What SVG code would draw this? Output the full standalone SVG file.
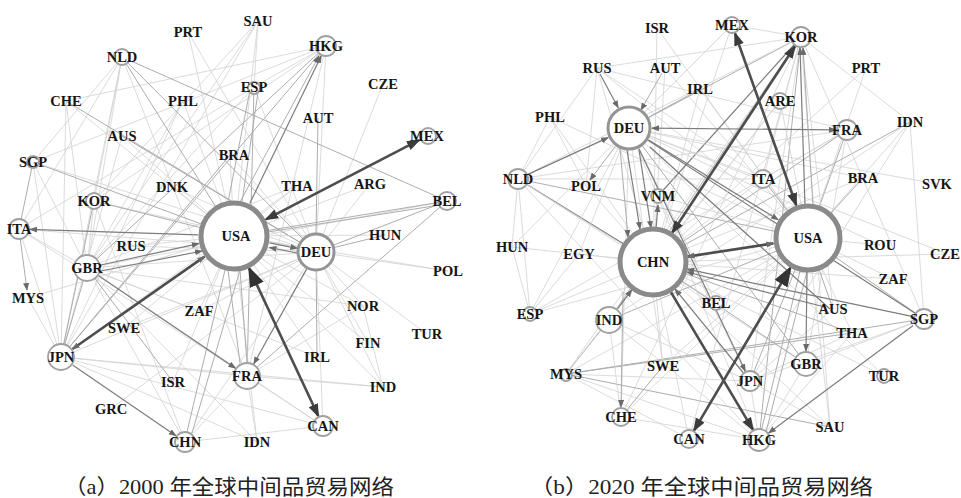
<svg xmlns="http://www.w3.org/2000/svg" width="961" height="498" viewBox="0 0 961 498">
<style>
.l{stroke:#d2d2d2;stroke-width:0.8;fill:none}
.m{stroke:#adadad;stroke-width:1;fill:none}
.d{stroke:#7c7c7c;stroke-width:1.2;fill:none}
.t{stroke:#4d4d4d;stroke-width:2.6;fill:none}
.nc{fill:#fff;stroke:#a0a0a0;stroke-width:1.8}
.big{fill:#fff;stroke:#8a8a8a;stroke-width:5}
.mid{fill:#fff;stroke:#949494;stroke-width:3}
.lbl{font-family:"Liberation Serif","Times New Roman",serif;font-weight:bold;font-size:14.5px;fill:#151515;text-anchor:middle}
.cap{font-family:"Liberation Serif","Noto Sans CJK SC",serif;font-size:21px;fill:#222}
</style>
<defs>
<marker id="ah" markerUnits="userSpaceOnUse" markerWidth="9" markerHeight="7" refX="7" refY="3" orient="auto-start-reverse"><path d="M0,0 L8,3 L0,6 z" fill="#6a6a6a"/></marker>
<marker id="ahB" markerUnits="userSpaceOnUse" markerWidth="15" markerHeight="11" refX="12" refY="5" orient="auto-start-reverse"><path d="M0,0 L14,5 L0,10 z" fill="#3c3c3c"/></marker>
<marker id="ahH" markerUnits="userSpaceOnUse" markerWidth="22" markerHeight="16" refX="18" refY="7.5" orient="auto-start-reverse"><path d="M0,0 L21,7.5 L0,15 z" fill="#333"/></marker>
</defs>
<rect x="0" y="0" width="961" height="498" fill="#fff"/>

<!-- ================= PANEL A ================= -->
<g id="edges-a">
<line class="l" x1="122" y1="57" x2="94" y2="201"/>
<line class="l" x1="122" y1="57" x2="87" y2="268"/>
<line class="l" x1="122" y1="57" x2="61" y2="357"/>
<line class="l" x1="122" y1="57" x2="247" y2="376"/>
<line class="l" x1="122" y1="57" x2="19" y2="229"/>
<line class="l" x1="122" y1="57" x2="33" y2="162"/>
<line class="l" x1="188" y1="32" x2="316" y2="252"/>
<line class="l" x1="188" y1="32" x2="234" y2="236"/>
<line class="l" x1="258" y1="21" x2="94" y2="201"/>
<line class="l" x1="258" y1="21" x2="87" y2="268"/>
<line class="l" x1="258" y1="21" x2="254" y2="87"/>
<line class="l" x1="258" y1="21" x2="234" y2="236"/>
<line class="l" x1="258" y1="21" x2="61" y2="357"/>
<line class="l" x1="326" y1="46" x2="94" y2="201"/>
<line class="m" x1="326" y1="46" x2="87" y2="268"/>
<line class="m" x1="326" y1="46" x2="61" y2="357"/>
<line class="l" x1="326" y1="46" x2="254" y2="87"/>
<line class="l" x1="326" y1="46" x2="247" y2="376"/>
<line class="l" x1="326" y1="46" x2="316" y2="252"/>
<line class="l" x1="326" y1="46" x2="66" y2="101"/>
<line class="l" x1="326" y1="46" x2="33" y2="162"/>
<line class="l" x1="254" y1="87" x2="316" y2="252"/>
<line class="m" x1="254" y1="87" x2="247" y2="376"/>
<line class="l" x1="254" y1="87" x2="87" y2="268"/>
<line class="l" x1="254" y1="87" x2="19" y2="229"/>
<line class="l" x1="383" y1="84" x2="316" y2="252"/>
<line class="l" x1="66" y1="101" x2="234" y2="236"/>
<line class="m" x1="66" y1="101" x2="316" y2="252"/>
<line class="l" x1="66" y1="101" x2="61" y2="357"/>
<line class="l" x1="66" y1="101" x2="87" y2="268"/>
<line class="l" x1="183" y1="101" x2="234" y2="236"/>
<line class="l" x1="183" y1="101" x2="61" y2="357"/>
<line class="l" x1="183" y1="101" x2="87" y2="268"/>
<line class="l" x1="122" y1="136" x2="234" y2="236"/>
<line class="l" x1="122" y1="136" x2="61" y2="357"/>
<line class="m" x1="122" y1="136" x2="316" y2="252"/>
<line class="l" x1="33" y1="162" x2="61" y2="357"/>
<line class="l" x1="33" y1="162" x2="87" y2="268"/>
<line class="l" x1="33" y1="162" x2="316" y2="252"/>
<line class="l" x1="230" y1="155" x2="234" y2="236"/>
<line class="m" x1="230" y1="155" x2="61" y2="357"/>
<line class="l" x1="230" y1="155" x2="316" y2="252"/>
<line class="l" x1="172" y1="187" x2="234" y2="236"/>
<line class="l" x1="172" y1="187" x2="316" y2="252"/>
<line class="l" x1="297" y1="186" x2="234" y2="236"/>
<line class="l" x1="297" y1="186" x2="61" y2="357"/>
<line class="l" x1="297" y1="186" x2="87" y2="268"/>
<line class="l" x1="370" y1="184" x2="234" y2="236"/>
<line class="l" x1="370" y1="184" x2="316" y2="252"/>
<line class="l" x1="94" y1="201" x2="185" y2="442"/>
<line class="l" x1="94" y1="201" x2="87" y2="268"/>
<line class="l" x1="94" y1="201" x2="316" y2="252"/>
<line class="l" x1="447" y1="201" x2="87" y2="268"/>
<line class="m" x1="447" y1="201" x2="247" y2="376"/>
<line class="l" x1="19" y1="229" x2="316" y2="252"/>
<line class="l" x1="19" y1="229" x2="87" y2="268"/>
<line class="l" x1="19" y1="229" x2="247" y2="376"/>
<line class="l" x1="19" y1="229" x2="61" y2="357"/>
<line class="l" x1="131" y1="246" x2="234" y2="236"/>
<line class="l" x1="131" y1="246" x2="316" y2="252"/>
<line class="l" x1="385" y1="235" x2="234" y2="236"/>
<line class="l" x1="87" y1="268" x2="316" y2="252"/>
<line class="m" x1="87" y1="268" x2="61" y2="357"/>
<line class="l" x1="87" y1="268" x2="185" y2="442"/>
<line class="l" x1="87" y1="268" x2="323" y2="426"/>
<line class="l" x1="28" y1="298" x2="234" y2="236"/>
<line class="l" x1="28" y1="298" x2="61" y2="357"/>
<line class="l" x1="448" y1="271" x2="316" y2="252"/>
<line class="l" x1="448" y1="271" x2="234" y2="236"/>
<line class="l" x1="199" y1="311" x2="234" y2="236"/>
<line class="l" x1="199" y1="311" x2="87" y2="268"/>
<line class="l" x1="199" y1="311" x2="316" y2="252"/>
<line class="l" x1="124" y1="328" x2="234" y2="236"/>
<line class="l" x1="124" y1="328" x2="316" y2="252"/>
<line class="l" x1="363" y1="306" x2="316" y2="252"/>
<line class="l" x1="363" y1="306" x2="247" y2="376"/>
<line class="l" x1="363" y1="306" x2="87" y2="268"/>
<line class="l" x1="363" y1="306" x2="234" y2="236"/>
<line class="l" x1="427" y1="334" x2="316" y2="252"/>
<line class="l" x1="61" y1="357" x2="257" y2="442"/>
<line class="l" x1="61" y1="357" x2="316" y2="252"/>
<line class="l" x1="61" y1="357" x2="247" y2="376"/>
<line class="l" x1="61" y1="357" x2="323" y2="426"/>
<line class="l" x1="61" y1="357" x2="383" y2="387"/>
<line class="l" x1="368" y1="343" x2="316" y2="252"/>
<line class="l" x1="368" y1="343" x2="234" y2="236"/>
<line class="m" x1="317" y1="357" x2="316" y2="252"/>
<line class="l" x1="317" y1="357" x2="234" y2="236"/>
<line class="l" x1="317" y1="357" x2="87" y2="268"/>
<line class="l" x1="247" y1="376" x2="323" y2="426"/>
<line class="l" x1="247" y1="376" x2="257" y2="442"/>
<line class="l" x1="173" y1="382" x2="234" y2="236"/>
<line class="m" x1="173" y1="382" x2="87" y2="268"/>
<line class="l" x1="383" y1="387" x2="234" y2="236"/>
<line class="l" x1="383" y1="387" x2="316" y2="252"/>
<line class="l" x1="383" y1="387" x2="363" y2="306"/>
<line class="l" x1="383" y1="387" x2="247" y2="376"/>
<line class="l" x1="111" y1="409" x2="316" y2="252"/>
<line class="l" x1="185" y1="442" x2="316" y2="252"/>
<line class="l" x1="185" y1="442" x2="247" y2="376"/>
<line class="l" x1="323" y1="426" x2="316" y2="252"/>
<line class="l" x1="323" y1="426" x2="185" y2="442"/>
<line class="l" x1="257" y1="442" x2="234" y2="236"/>
<line class="l" x1="257" y1="442" x2="87" y2="268"/>
<!-- medium -->
<line class="m" x1="122" y1="57" x2="234" y2="236"/>
<line class="m" x1="122" y1="57" x2="316" y2="252"/>
<line class="m" x1="122" y1="57" x2="447" y2="201"/>
<line class="m" x1="250" y1="90" x2="228" y2="202"/>
<line class="m" x1="258" y1="92" x2="242" y2="202"/>
<line class="m" x1="318" y1="118" x2="316" y2="233"/>
<line class="m" x1="33" y1="162" x2="234" y2="236"/>
<line class="m" x1="94" y1="201" x2="234" y2="236"/>
<line class="m" x1="94" y1="201" x2="61" y2="357"/>
<line class="m" x1="447" y1="201" x2="234" y2="236"/>
<line class="m" x1="447" y1="201" x2="316" y2="252"/>
<line class="m" x1="440" y1="205" x2="268" y2="232"/>
<line class="m" x1="385" y1="235" x2="316" y2="252"/>
<line class="m" x1="187" y1="432" x2="225" y2="270"/>
<line class="m" x1="192" y1="433" x2="240" y2="270"/>
<line class="m" x1="247" y1="363" x2="240" y2="270"/>
<line class="m" x1="240" y1="363" x2="228" y2="270"/>
<line class="m" x1="33" y1="162" x2="21" y2="220"/>
<!-- medium arrows -->
<line class="d" x1="198" y1="234.8" x2="30" y2="229.4" marker-end="url(#ah)"/>
<line class="d" x1="306.8" y1="268.6" x2="253.8" y2="363.8" marker-end="url(#ah)"/>
<line class="d" x1="98.6" y1="275.8" x2="235.4" y2="368.2" marker-end="url(#ah)"/>
<line class="d" x1="72.6" y1="364.9" x2="175.9" y2="435.8" marker-end="url(#ah)"/>
<line class="d" x1="100.7" y1="265" x2="198.8" y2="243.7" marker-end="url(#ah)"/>
<line class="d" x1="101" y1="271" x2="202" y2="251" marker-end="url(#ah)"/>
<line class="d" x1="269.4" y1="242.9" x2="297.3" y2="248.4" marker-end="url(#ah)"/>
<line class="d" x1="297" y1="253" x2="269.5" y2="247.5" marker-end="url(#ah)"/>
<line class="d" x1="249.7" y1="203.6" x2="321.2" y2="55.9" marker-end="url(#ah)"/>
<line class="m" x1="240" y1="202" x2="319" y2="56" marker-end="url(#ah)"/>
<line class="m" x1="20.4" y1="240" x2="27" y2="290" marker-end="url(#ah)"/>
<!-- thick -->
<line class="t" x1="266" y1="219.4" x2="419" y2="140.1" marker-start="url(#ahB)" marker-end="url(#ahB)"/>
<line class="t" x1="204.5" y1="256.6" x2="72.5" y2="349" stroke-width="2.2" marker-start="url(#ah)" marker-end="url(#ah)"/>
<line class="t" x1="249.3" y1="268.6" x2="318.3" y2="416" stroke-width="4.5" marker-start="url(#ahH)" marker-end="url(#ahB)"/>
</g>

<g id="nodes-a">
<g id="a-USA"><circle class="big" cx="234" cy="236" r="33"/><text class="lbl" x="236" y="241">USA</text></g>
<g id="a-DEU"><circle class="mid" cx="316" cy="252" r="18"/><text class="lbl" x="316" y="257">DEU</text></g>
<g id="a-PRT"><text class="lbl" x="188" y="37">PRT</text></g>
<g id="a-SAU"><text class="lbl" x="258" y="26">SAU</text></g>
<g id="a-NLD"><circle class="nc" cx="122" cy="57" r="8"/><text class="lbl" x="122" y="62">NLD</text></g>
<g id="a-HKG"><circle class="nc" cx="326" cy="46" r="10"/><text class="lbl" x="326" y="51">HKG</text></g>
<g id="a-ESP"><circle class="nc" cx="254" cy="88" r="6"/><text class="lbl" x="254" y="92">ESP</text></g>
<g id="a-CZE"><text class="lbl" x="383" y="89">CZE</text></g>
<g id="a-CHE"><text class="lbl" x="66" y="106">CHE</text></g>
<g id="a-PHL"><text class="lbl" x="183" y="106">PHL</text></g>
<g id="a-AUS"><text class="lbl" x="122" y="141">AUS</text></g>
<g id="a-AUT"><text class="lbl" x="318" y="123">AUT</text></g>
<g id="a-MEX"><circle class="nc" cx="428" cy="136" r="8"/><text class="lbl" x="427" y="141">MEX</text></g>
<g id="a-SGP"><circle class="nc" cx="33" cy="162" r="6"/><text class="lbl" x="33" y="167">SGP</text></g>
<g id="a-BRA"><text class="lbl" x="234" y="160">BRA</text></g>
<g id="a-DNK"><text class="lbl" x="172" y="192">DNK</text></g>
<g id="a-THA"><text class="lbl" x="297" y="191">THA</text></g>
<g id="a-ARG"><text class="lbl" x="370" y="189">ARG</text></g>
<g id="a-KOR"><circle class="nc" cx="94" cy="201" r="8"/><text class="lbl" x="94" y="206">KOR</text></g>
<g id="a-BEL"><circle class="nc" cx="447" cy="201" r="9"/><text class="lbl" x="447" y="206">BEL</text></g>
<g id="a-ITA"><circle class="nc" cx="19" cy="229" r="10"/><text class="lbl" x="19" y="234">ITA</text></g>
<g id="a-RUS"><text class="lbl" x="131" y="251">RUS</text></g>
<g id="a-HUN"><text class="lbl" x="385" y="240">HUN</text></g>
<g id="a-GBR"><circle class="nc" cx="87" cy="268" r="13" stroke-width="2.5"/><text class="lbl" x="87" y="273">GBR</text></g>
<g id="a-MYS"><text class="lbl" x="28" y="303">MYS</text></g>
<g id="a-POL"><text class="lbl" x="448" y="276">POL</text></g>
<g id="a-ZAF"><text class="lbl" x="199" y="316">ZAF</text></g>
<g id="a-SWE"><text class="lbl" x="124" y="333">SWE</text></g>
<g id="a-NOR"><text class="lbl" x="363" y="311">NOR</text></g>
<g id="a-TUR"><text class="lbl" x="427" y="339">TUR</text></g>
<g id="a-JPN"><circle class="nc" cx="61" cy="357" r="13" stroke-width="2.5"/><text class="lbl" x="61" y="362">JPN</text></g>
<g id="a-FIN"><text class="lbl" x="368" y="348">FIN</text></g>
<g id="a-IRL"><text class="lbl" x="317" y="362">IRL</text></g>
<g id="a-FRA"><circle class="nc" cx="247" cy="376" r="13" stroke-width="2.5"/><text class="lbl" x="247" y="381">FRA</text></g>
<g id="a-ISR"><text class="lbl" x="173" y="387">ISR</text></g>
<g id="a-IND"><text class="lbl" x="383" y="392">IND</text></g>
<g id="a-GRC"><text class="lbl" x="111" y="414">GRC</text></g>
<g id="a-CAN"><circle class="nc" cx="323" cy="426" r="10"/><text class="lbl" x="323" y="431">CAN</text></g>
<g id="a-CHN"><circle class="nc" cx="185" cy="442" r="10"/><text class="lbl" x="185" y="447">CHN</text></g>
<g id="a-IDN"><text class="lbl" x="257" y="447">IDN</text></g>
</g>

<!-- ================= PANEL B ================= -->
<g id="edges-b">
<line class="l" x1="657" y1="28" x2="808" y2="238"/>
<line class="l" x1="657" y1="28" x2="653" y2="262"/>
<line class="l" x1="597" y1="68" x2="653" y2="262"/>
<line class="l" x1="597" y1="68" x2="808" y2="238"/>
<line class="l" x1="597" y1="68" x2="801" y2="37"/>
<line class="l" x1="597" y1="68" x2="763" y2="179"/>
<line class="l" x1="597" y1="68" x2="518" y2="179"/>
<line class="l" x1="597" y1="68" x2="847" y2="130"/>
<line class="l" x1="597" y1="68" x2="586" y2="186"/>
<line class="l" x1="665" y1="68" x2="653" y2="262"/>
<line class="l" x1="665" y1="68" x2="808" y2="238"/>
<line class="l" x1="700" y1="89" x2="808" y2="238"/>
<line class="l" x1="700" y1="89" x2="653" y2="262"/>
<line class="m" x1="700" y1="89" x2="629" y2="128"/>
<line class="l" x1="550" y1="117" x2="653" y2="262"/>
<line class="l" x1="550" y1="117" x2="518" y2="179"/>
<line class="l" x1="550" y1="117" x2="808" y2="238"/>
<line class="l" x1="550" y1="117" x2="586" y2="186"/>
<line class="l" x1="732" y1="25" x2="653" y2="262"/>
<line class="l" x1="732" y1="25" x2="629" y2="128"/>
<line class="l" x1="732" y1="25" x2="801" y2="37"/>
<line class="d" x1="801" y1="37" x2="658" y2="196"/>
<line class="m" x1="801" y1="37" x2="629" y2="128"/>
<line class="l" x1="801" y1="37" x2="750" y2="381"/>
<line class="m" x1="801" y1="37" x2="759" y2="440"/>
<line class="l" x1="801" y1="37" x2="763" y2="179"/>
<line class="l" x1="801" y1="37" x2="566" y2="374"/>
<line class="m" x1="801" y1="37" x2="609" y2="320"/>
<line class="l" x1="866" y1="68" x2="653" y2="262"/>
<line class="l" x1="866" y1="68" x2="808" y2="238"/>
<line class="l" x1="780" y1="101" x2="653" y2="262"/>
<line class="l" x1="780" y1="101" x2="808" y2="238"/>
<line class="l" x1="780" y1="101" x2="609" y2="320"/>
<line class="m" x1="847" y1="130" x2="653" y2="262"/>
<line class="m" x1="847" y1="130" x2="808" y2="238"/>
<line class="l" x1="847" y1="130" x2="763" y2="179"/>
<line class="l" x1="847" y1="130" x2="806" y2="364"/>
<line class="l" x1="847" y1="130" x2="518" y2="179"/>
<line class="l" x1="847" y1="130" x2="530" y2="314"/>
<line class="m" x1="910" y1="122" x2="653" y2="262"/>
<line class="l" x1="910" y1="122" x2="808" y2="238"/>
<line class="l" x1="910" y1="122" x2="924" y2="319"/>
<line class="l" x1="910" y1="122" x2="750" y2="381"/>
<line class="l" x1="910" y1="122" x2="801" y2="37"/>
<line class="l" x1="910" y1="122" x2="609" y2="320"/>
<line class="d" x1="518" y1="179" x2="653" y2="262"/>
<line class="m" x1="518" y1="179" x2="808" y2="238"/>
<line class="l" x1="518" y1="179" x2="763" y2="179"/>
<line class="l" x1="518" y1="179" x2="716" y2="303"/>
<line class="l" x1="518" y1="179" x2="801" y2="37"/>
<line class="l" x1="518" y1="179" x2="806" y2="364"/>
<line class="l" x1="518" y1="179" x2="512" y2="247"/>
<line class="l" x1="518" y1="179" x2="530" y2="314"/>
<line class="l" x1="586" y1="186" x2="653" y2="262"/>
<line class="l" x1="658" y1="196" x2="808" y2="238"/>
<line class="l" x1="658" y1="196" x2="750" y2="381"/>
<line class="m" x1="763" y1="179" x2="808" y2="238"/>
<line class="l" x1="763" y1="179" x2="653" y2="262"/>
<line class="l" x1="763" y1="179" x2="629" y2="128"/>
<line class="m" x1="863" y1="178" x2="808" y2="238"/>
<line class="l" x1="863" y1="178" x2="653" y2="262"/>
<line class="l" x1="863" y1="178" x2="629" y2="128"/>
<line class="l" x1="937" y1="184" x2="629" y2="128"/>
<line class="l" x1="512" y1="247" x2="629" y2="128"/>
<line class="l" x1="512" y1="247" x2="530" y2="314"/>
<line class="l" x1="512" y1="247" x2="653" y2="262"/>
<line class="l" x1="579" y1="254" x2="653" y2="262"/>
<line class="l" x1="579" y1="254" x2="530" y2="314"/>
<line class="l" x1="579" y1="254" x2="629" y2="128"/>
<line class="l" x1="880" y1="245" x2="629" y2="128"/>
<line class="l" x1="880" y1="245" x2="808" y2="238"/>
<line class="l" x1="947" y1="254" x2="629" y2="128"/>
<line class="l" x1="947" y1="254" x2="653" y2="262"/>
<line class="l" x1="893" y1="279" x2="808" y2="238"/>
<line class="l" x1="893" y1="279" x2="653" y2="262"/>
<line class="l" x1="716" y1="303" x2="653" y2="262"/>
<line class="l" x1="716" y1="303" x2="808" y2="238"/>
<line class="l" x1="716" y1="303" x2="629" y2="128"/>
<line class="m" x1="833" y1="309" x2="808" y2="238"/>
<line class="l" x1="833" y1="309" x2="750" y2="381"/>
<line class="l" x1="833" y1="309" x2="801" y2="37"/>
<line class="m" x1="924" y1="319" x2="808" y2="238"/>
<line class="l" x1="924" y1="319" x2="750" y2="381"/>
<line class="m" x1="924" y1="319" x2="566" y2="374"/>
<line class="l" x1="924" y1="319" x2="806" y2="364"/>
<line class="d" x1="924" y1="319" x2="629" y2="128"/>
<line class="l" x1="924" y1="319" x2="801" y2="37"/>
<line class="l" x1="530" y1="314" x2="653" y2="262"/>
<line class="l" x1="530" y1="314" x2="629" y2="128"/>
<line class="l" x1="530" y1="314" x2="808" y2="238"/>
<line class="m" x1="609" y1="320" x2="808" y2="238"/>
<line class="m" x1="609" y1="320" x2="566" y2="374"/>
<line class="l" x1="609" y1="320" x2="750" y2="381"/>
<line class="m" x1="852" y1="333" x2="653" y2="262"/>
<line class="l" x1="852" y1="333" x2="808" y2="238"/>
<line class="l" x1="852" y1="333" x2="750" y2="381"/>
<line class="m" x1="852" y1="333" x2="566" y2="374"/>
<line class="l" x1="852" y1="333" x2="759" y2="440"/>
<line class="m" x1="806" y1="364" x2="653" y2="262"/>
<line class="m" x1="806" y1="364" x2="629" y2="128"/>
<line class="l" x1="806" y1="364" x2="759" y2="440"/>
<line class="l" x1="663" y1="366" x2="653" y2="262"/>
<line class="l" x1="663" y1="366" x2="629" y2="128"/>
<line class="l" x1="663" y1="366" x2="808" y2="238"/>
<line class="l" x1="566" y1="374" x2="653" y2="262"/>
<line class="l" x1="566" y1="374" x2="808" y2="238"/>
<line class="l" x1="566" y1="374" x2="750" y2="381"/>
<line class="l" x1="566" y1="374" x2="759" y2="440"/>
<line class="l" x1="884" y1="376" x2="629" y2="128"/>
<line class="l" x1="884" y1="376" x2="653" y2="262"/>
<line class="m" x1="750" y1="381" x2="808" y2="238"/>
<line class="l" x1="750" y1="381" x2="759" y2="440"/>
<line class="l" x1="621" y1="417" x2="629" y2="128"/>
<line class="l" x1="621" y1="417" x2="808" y2="238"/>
<line class="m" x1="621" y1="417" x2="663" y2="366"/>
<line class="l" x1="621" y1="417" x2="609" y2="320"/>
<line class="l" x1="621" y1="417" x2="759" y2="440"/>
<line class="l" x1="621" y1="417" x2="801" y2="37"/>
<line class="l" x1="830" y1="427" x2="653" y2="262"/>
<line class="l" x1="830" y1="427" x2="808" y2="238"/>
<line class="l" x1="830" y1="427" x2="750" y2="381"/>
<line class="l" x1="830" y1="427" x2="801" y2="37"/>
<line class="m" x1="830" y1="427" x2="566" y2="374"/>
<line class="l" x1="689" y1="439" x2="653" y2="262"/>
<line class="l" x1="689" y1="439" x2="801" y2="37"/>
<line class="l" x1="689" y1="439" x2="566" y2="374"/>
<line class="m" x1="759" y1="440" x2="808" y2="238"/>
<line class="m" x1="766" y1="432" x2="815" y2="240"/>
<line class="l" x1="759" y1="440" x2="629" y2="128"/>
<line class="l" x1="759" y1="440" x2="518" y2="179"/>
<line class="l" x1="759" y1="440" x2="609" y2="320"/>
<!-- medium arrows -->
<line class="d" x1="528" y1="174.4" x2="608.1" y2="137.6" marker-end="url(#ah)"/>
<line class="d" x1="652" y1="128.2" x2="836" y2="129.9" marker-start="url(#ah)" marker-end="url(#ah)"/>
<line class="d" x1="627" y1="150" x2="640" y2="229" marker-end="url(#ah)"/>
<line class="d" x1="639" y1="150" x2="651" y2="228" marker-end="url(#ah)"/>
<line class="m" x1="620" y1="148" x2="628" y2="237" marker-end="url(#ah)"/>
<line class="d" x1="648.6" y1="140" x2="778.2" y2="219.7" marker-end="url(#ah)"/>
<line class="d" x1="650" y1="147" x2="830" y2="309"/>
<line class="m" x1="615.3" y1="146.5" x2="590" y2="180" marker-end="url(#ah)"/>
<line class="d" x1="656" y1="229" x2="658" y2="205" marker-end="url(#ah)"/>
<line class="d" x1="805" y1="205" x2="800" y2="48" marker-end="url(#ah)"/>
<line class="m" x1="813" y1="206" x2="803" y2="48" marker-end="url(#ah)"/>
<line class="d" x1="807" y1="272" x2="806" y2="351" marker-end="url(#ah)"/>
<line class="d" x1="913.2" y1="316.7" x2="687.3" y2="269.2" marker-end="url(#ah)"/>
<line class="d" x1="825" y1="307" x2="687" y2="272" marker-end="url(#ah)"/>
<line class="d" x1="743" y1="372.5" x2="675.1" y2="289.1" marker-end="url(#ah)"/>
<line class="d" x1="913.1" y1="325.5" x2="768.7" y2="432.9" marker-end="url(#ah)"/>
<line class="m" x1="623" y1="292" x2="621" y2="407" marker-end="url(#ah)"/>
<line class="d" x1="617.5" y1="308.8" x2="631.8" y2="289.9" marker-end="url(#ah)"/>
<line class="d" x1="638.9" y1="148.8" x2="745.3" y2="371.1" marker-end="url(#ah)"/>
<line class="d" x1="600" y1="74" x2="618.2" y2="107.7" marker-end="url(#ah)"/>
<line class="m" x1="662" y1="73" x2="641" y2="110" marker-end="url(#ah)"/>
<!-- thick -->
<line class="t" x1="735" y1="33.5" x2="796.2" y2="205" marker-start="url(#ahB)" marker-end="url(#ahB)"/>
<line class="t" x1="672.2" y1="232.8" x2="795" y2="46.2" marker-start="url(#ahB)" marker-end="url(#ahB)"/>
<line class="t" x1="670.9" y1="292.1" x2="752.9" y2="429.7" marker-end="url(#ahB)"/>
<line class="t" x1="694.1" y1="430.4" x2="790.2" y2="268.1" stroke-width="3" marker-start="url(#ahB)" marker-end="url(#ahH)"/>
<line class="t" x1="687.6" y1="256.6" x2="773.4" y2="243.4" stroke-width="2" marker-start="url(#ah)" marker-end="url(#ah)"/>
</g>

<g id="nodes-b">
<g id="b-USA"><circle class="big" cx="808" cy="238" r="32"/><text class="lbl" x="808" y="243">USA</text></g>
<g id="b-CHN"><circle class="big" cx="653" cy="262" r="33"/><text class="lbl" x="653" y="267">CHN</text></g>
<g id="b-DEU"><circle class="mid" cx="629" cy="128" r="21" stroke-width="3.5"/><text class="lbl" x="629" y="133">DEU</text></g>
<g id="b-ISR"><text class="lbl" x="657" y="33">ISR</text></g>
<g id="b-RUS"><text class="lbl" x="597" y="73">RUS</text></g>
<g id="b-AUT"><text class="lbl" x="665" y="73">AUT</text></g>
<g id="b-IRL"><text class="lbl" x="700" y="94">IRL</text></g>
<g id="b-PHL"><text class="lbl" x="550" y="122">PHL</text></g>
<g id="b-MEX"><circle class="nc" cx="732" cy="25" r="8"/><text class="lbl" x="732" y="30">MEX</text></g>
<g id="b-KOR"><circle class="nc" cx="801" cy="37" r="10"/><text class="lbl" x="801" y="42">KOR</text></g>
<g id="b-PRT"><text class="lbl" x="866" y="73">PRT</text></g>
<g id="b-ARE"><circle class="nc" cx="780" cy="101" r="8"/><text class="lbl" x="780" y="106">ARE</text></g>
<g id="b-FRA"><circle class="nc" cx="847" cy="130" r="10"/><text class="lbl" x="847" y="135">FRA</text></g>
<g id="b-IDN"><text class="lbl" x="910" y="127">IDN</text></g>
<g id="b-NLD"><circle class="nc" cx="518" cy="179" r="10"/><text class="lbl" x="518" y="184">NLD</text></g>
<g id="b-POL"><text class="lbl" x="586" y="191">POL</text></g>
<g id="b-VNM"><circle class="nc" cx="658" cy="196" r="7"/><text class="lbl" x="658" y="201">VNM</text></g>
<g id="b-ITA"><circle class="nc" cx="763" cy="179" r="9"/><text class="lbl" x="763" y="184">ITA</text></g>
<g id="b-BRA"><text class="lbl" x="863" y="183">BRA</text></g>
<g id="b-SVK"><text class="lbl" x="937" y="189">SVK</text></g>
<g id="b-HUN"><text class="lbl" x="512" y="252">HUN</text></g>
<g id="b-EGY"><text class="lbl" x="579" y="259">EGY</text></g>
<g id="b-ROU"><text class="lbl" x="880" y="250">ROU</text></g>
<g id="b-CZE"><text class="lbl" x="945" y="259">CZE</text></g>
<g id="b-ZAF"><text class="lbl" x="893" y="284">ZAF</text></g>
<g id="b-BEL"><circle class="nc" cx="716" cy="303" r="7" stroke-width="1.2"/><text class="lbl" x="716" y="308">BEL</text></g>
<g id="b-AUS"><text class="lbl" x="833" y="314">AUS</text></g>
<g id="b-SGP"><circle class="nc" cx="924" cy="319" r="10"/><text class="lbl" x="924" y="324">SGP</text></g>
<g id="b-ESP"><circle class="nc" cx="530" cy="314" r="7"/><text class="lbl" x="530" y="319">ESP</text></g>
<g id="b-IND"><circle class="nc" cx="609" cy="320" r="13" stroke-width="2.5"/><text class="lbl" x="609" y="325">IND</text></g>
<g id="b-THA"><text class="lbl" x="852" y="338">THA</text></g>
<g id="b-GBR"><circle class="nc" cx="806" cy="364" r="12" stroke-width="2.5"/><text class="lbl" x="806" y="369">GBR</text></g>
<g id="b-SWE"><text class="lbl" x="663" y="371">SWE</text></g>
<g id="b-MYS"><circle class="nc" cx="566" cy="375" r="6" stroke-width="1.2"/><text class="lbl" x="566" y="379">MYS</text></g>
<g id="b-TUR"><circle class="nc" cx="884" cy="376" r="7"/><text class="lbl" x="884" y="381">TUR</text></g>
<g id="b-JPN"><circle class="nc" cx="750" cy="381" r="10"/><text class="lbl" x="750" y="386">JPN</text></g>
<g id="b-CHE"><circle class="nc" cx="621" cy="417" r="9"/><text class="lbl" x="621" y="422">CHE</text></g>
<g id="b-SAU"><text class="lbl" x="830" y="432">SAU</text></g>
<g id="b-CAN"><circle class="nc" cx="689" cy="439" r="9"/><text class="lbl" x="689" y="444">CAN</text></g>
<g id="b-HKG"><circle class="nc" cx="759" cy="440" r="11"/><text class="lbl" x="759" y="445">HKG</text></g>
</g>

<g id="captions">
<text class="cap" x="64" y="494" textLength="330" lengthAdjust="spacingAndGlyphs">（a）2000 年全球中间品贸易网络</text>
<text class="cap" x="530" y="494" textLength="343" lengthAdjust="spacingAndGlyphs">（b）2020 年全球中间品贸易网络</text>
</g>
</svg>
